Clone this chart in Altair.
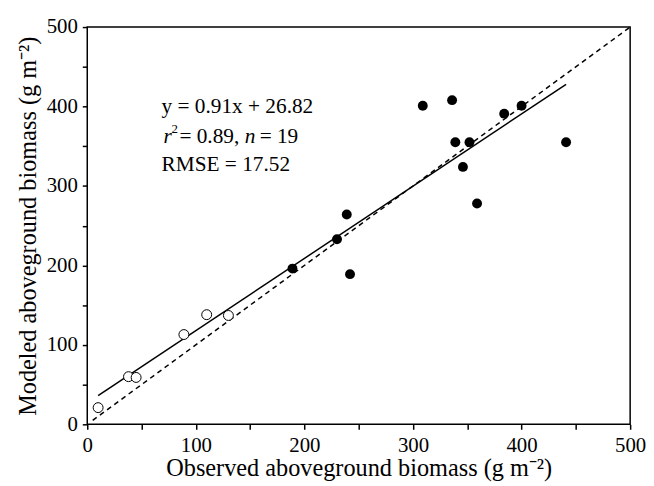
import altair as alt
import pandas as pd

# Open circles (low biomass)
open_x = [10, 38, 45, 89, 110, 130]
open_y = [21, 60, 59, 113, 138, 137]
# Filled circles
filled_x = [189, 230, 239, 242, 309, 336, 339, 352, 346, 359, 384, 400, 441]
filled_y = [196, 233, 264, 189, 401, 408, 355, 355, 324, 278, 391, 401, 355]
# Regression line endpoints (y = 0.91x + 26.82)
fit_x = [10, 441]
fit_y = [36, 428]
# 1:1 line
one_x = [5, 500]
one_y = [5, 500]
tick_vals = [0, 50, 100, 150, 200, 250, 300, 350, 400, 450, 500]

FONT = "Liberation Serif"

df_open = pd.DataFrame({"x": open_x, "y": open_y})
df_fill = pd.DataFrame({"x": filled_x, "y": filled_y})
df_fit = pd.DataFrame({"x": fit_x, "y": fit_y})
df_one = pd.DataFrame({"x": one_x, "y": one_y})

label_expr = "datum.value % 100 == 0 ? datum.label : ''"
xs = alt.Scale(domain=[0, 500], nice=False)
ys = alt.Scale(domain=[0, 500], nice=False)
common = dict(values=tick_vals, labelExpr=label_expr, grid=False, labelFontSize=21, titleFontSize=24.5,
              labelFont=FONT, titleFont=FONT, titleFontWeight="normal", labelColor="black",
              titleColor="black", tickColor="black", tickSize=5, tickWidth=1.5, domain=False,
              labelFlush=False)
xax = alt.Axis(title="Observed aboveground biomass (g m⁻²)", labelPadding=5, titlePadding=2, **common)
yax = alt.Axis(title="Modeled aboveground biomass (g m⁻²)", labelPadding=5, titlePadding=6, **common)

one = alt.Chart(df_one).mark_line(color="black", strokeDash=[5, 4], strokeWidth=1.5).encode(
    x=alt.X("x:Q", scale=xs, axis=xax), y=alt.Y("y:Q", scale=ys, axis=yax))
fit = alt.Chart(df_fit).mark_line(color="black", strokeWidth=1.5).encode(x="x:Q", y="y:Q")
pts_open = alt.Chart(df_open).mark_point(shape="circle", filled=False, color="black", size=100,
                                         strokeWidth=1, fill="white", fillOpacity=1).encode(x="x:Q", y="y:Q")
pts_fill = alt.Chart(df_fill).mark_point(shape="circle", filled=True, color="black", size=100,
                                         opacity=1).encode(x="x:Q", y="y:Q")

def txt(s, x, y, size=21.5, style="normal"):
    return alt.Chart(pd.DataFrame({"t": [s]})).mark_text(
        align="left", baseline="alphabetic", font=FONT, fontSize=size, fontStyle=style, color="black"
    ).encode(text="t:N", x=alt.value(x), y=alt.value(y))

ann = [
    txt("y = 0.91x + 26.82", 75, 87),
    txt("r", 77, 117, style="italic"),
    txt("2", 85, 107, size=13),
    txt("= 0.89,", 93, 117),
    txt("n", 159, 117, style="italic"),
    txt("= 19", 174, 117),
    txt("RMSE = 17.52", 75, 145),
]

chart = alt.layer(one, fit, pts_open, pts_fill, *ann).properties(
    width=548, height=401,
    autosize=alt.AutoSizeParams(type="none"),
    padding={"left": 80, "top": 17, "right": 16, "bottom": 58},
    background="white",
).configure_view(stroke="black", strokeWidth=1.5)

chart.save("out.html", embed_options={"renderer": "svg", "actions": False})
